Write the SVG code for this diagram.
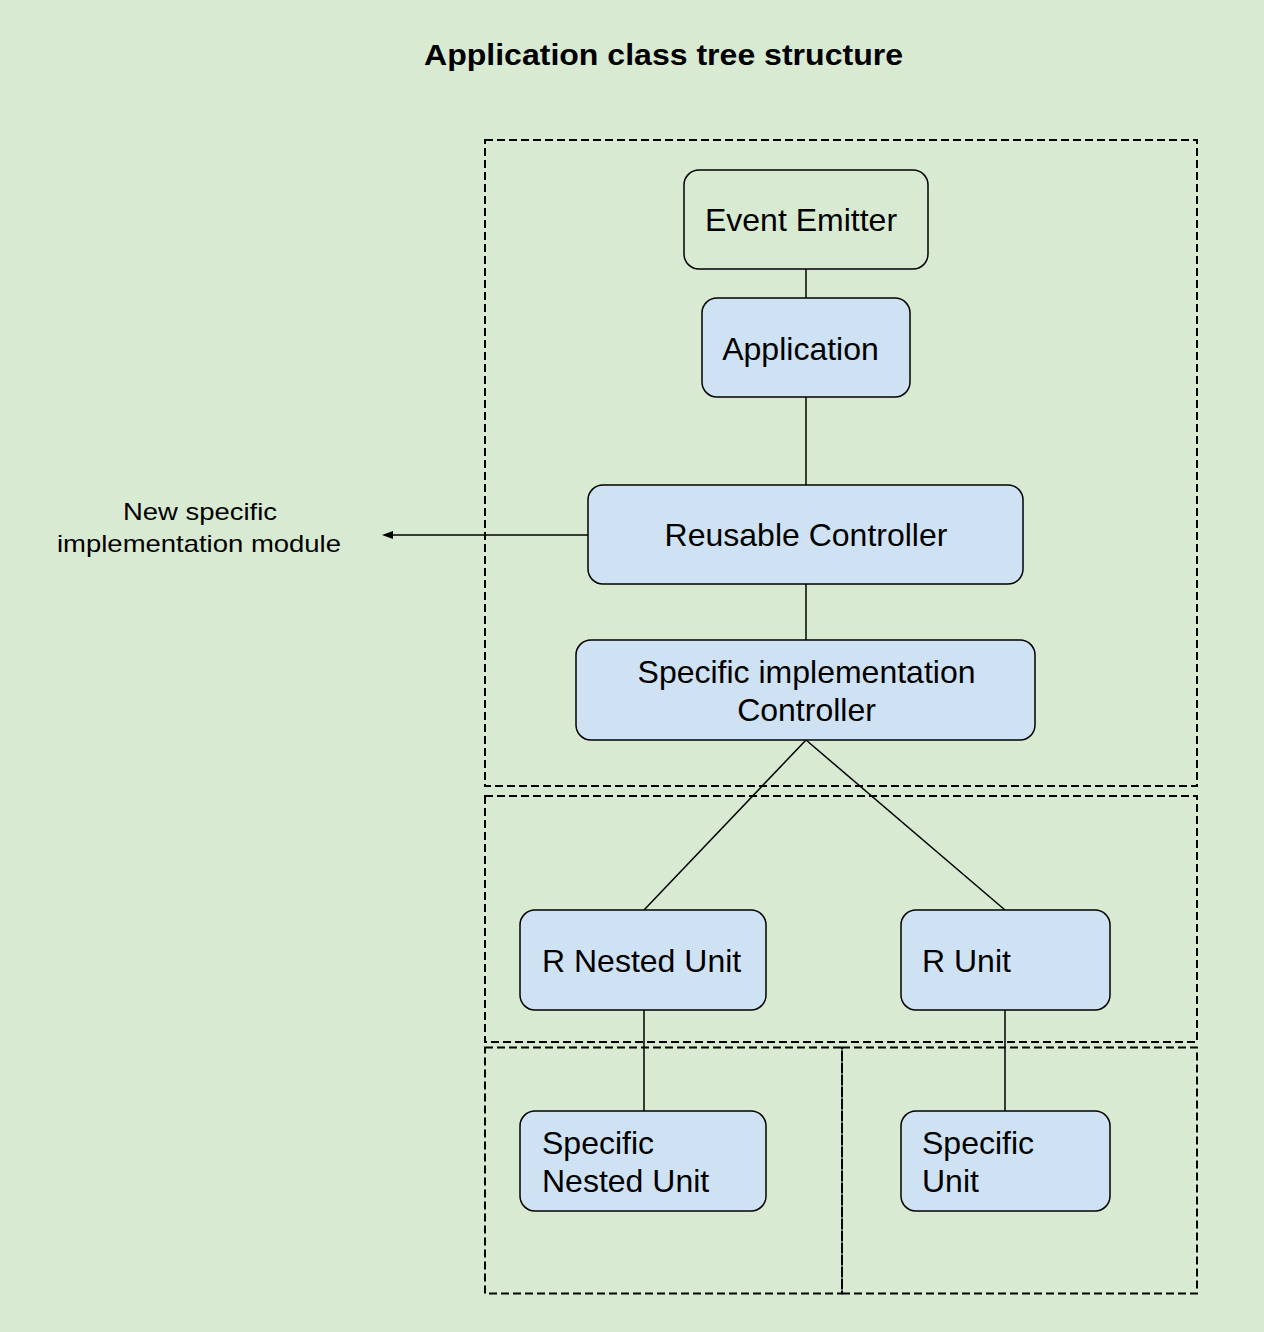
<svg xmlns="http://www.w3.org/2000/svg" width="1264" height="1332" viewBox="0 0 1264 1332">
<style>
.bg{fill:#d9ead3}
.grp{fill:none;stroke:#000;stroke-width:2;stroke-dasharray:8 4}
.node rect{stroke:#000;stroke-width:1.5}
.blue{fill:#cfe2f3}
.green{fill:#d9ead3}
.t{font-family:"Liberation Sans",Arial,sans-serif;font-size:32px;fill:#000}
.lbl{font-family:"Liberation Sans",Arial,sans-serif;font-size:24px;fill:#000}
.title{font-family:"Liberation Sans",Arial,sans-serif;font-size:30px;font-weight:bold;fill:#000}
.c{stroke:#000;stroke-width:1.5;fill:none}
</style>
<defs>
<marker id="ah" markerWidth="12" markerHeight="10" refX="1" refY="4.5" orient="auto-start-reverse" markerUnits="userSpaceOnUse">
<path d="M0,0.5 L11,4.5 L0,8.5 Z" fill="#000"/>
</marker>
</defs>
<rect class="bg" x="0" y="0" width="1264" height="1332"/>
<text class="title" x="663.5" y="65" text-anchor="middle" textLength="479" lengthAdjust="spacingAndGlyphs">Application class tree structure</text>
<g id="groups">
<rect class="grp" x="485" y="140" width="712" height="646"/>
<rect class="grp" x="485" y="796" width="712" height="246"/>
<rect class="grp" x="485" y="1047.5" width="357" height="246"/>
<rect class="grp" x="842" y="1047.5" width="355" height="246"/>
</g>
<g id="connectors">
<line class="c" x1="806" y1="269" x2="806" y2="298"/>
<line class="c" x1="806" y1="397" x2="806" y2="485"/>
<line class="c" x1="806" y1="584" x2="806" y2="640"/>
<line class="c" x1="806" y1="740" x2="644" y2="910"/>
<line class="c" x1="806" y1="740" x2="1005" y2="910"/>
<line class="c" x1="644" y1="1010" x2="644" y2="1111"/>
<line class="c" x1="1005" y1="1010" x2="1005" y2="1111"/>
<line class="c" x1="588" y1="535" x2="392" y2="535" marker-end="url(#ah)"/>
</g>
<g id="label-new-module">
<text class="lbl" x="200" y="520" text-anchor="middle" textLength="154" lengthAdjust="spacingAndGlyphs">New specific</text>
<text class="lbl" x="199" y="552" text-anchor="middle" textLength="284" lengthAdjust="spacingAndGlyphs">implementation module</text>
</g>
<g id="event-emitter" class="node">
<rect class="green" x="684" y="170" width="244" height="99" rx="15"/>
<text class="t" x="801" y="231" text-anchor="middle">Event Emitter</text>
</g>
<g id="application" class="node">
<rect class="blue" x="702" y="298" width="208" height="99" rx="15"/>
<text class="t" x="800.5" y="359.5" text-anchor="middle">Application</text>
</g>
<g id="reusable-controller" class="node">
<rect class="blue" x="588" y="485" width="435" height="99" rx="15"/>
<text class="t" x="806" y="546" text-anchor="middle">Reusable Controller</text>
</g>
<g id="specific-impl-controller" class="node">
<rect class="blue" x="576" y="640" width="459" height="100" rx="15"/>
<text class="t" x="806.5" y="683" text-anchor="middle">Specific implementation</text>
<text class="t" x="806.5" y="721" text-anchor="middle">Controller</text>
</g>
<g id="r-nested-unit" class="node">
<rect class="blue" x="520" y="910" width="246" height="100" rx="15"/>
<text class="t" x="542" y="971.5">R Nested Unit</text>
</g>
<g id="r-unit" class="node">
<rect class="blue" x="901" y="910" width="209" height="100" rx="15"/>
<text class="t" x="922" y="971.5">R Unit</text>
</g>
<g id="specific-nested-unit" class="node">
<rect class="blue" x="520" y="1111" width="246" height="100" rx="15"/>
<text class="t" x="542" y="1153.5">Specific</text>
<text class="t" x="542" y="1191.5">Nested Unit</text>
</g>
<g id="specific-unit" class="node">
<rect class="blue" x="901" y="1111" width="209" height="100" rx="15"/>
<text class="t" x="922" y="1153.5">Specific</text>
<text class="t" x="922" y="1191.5">Unit</text>
</g>
</svg>
